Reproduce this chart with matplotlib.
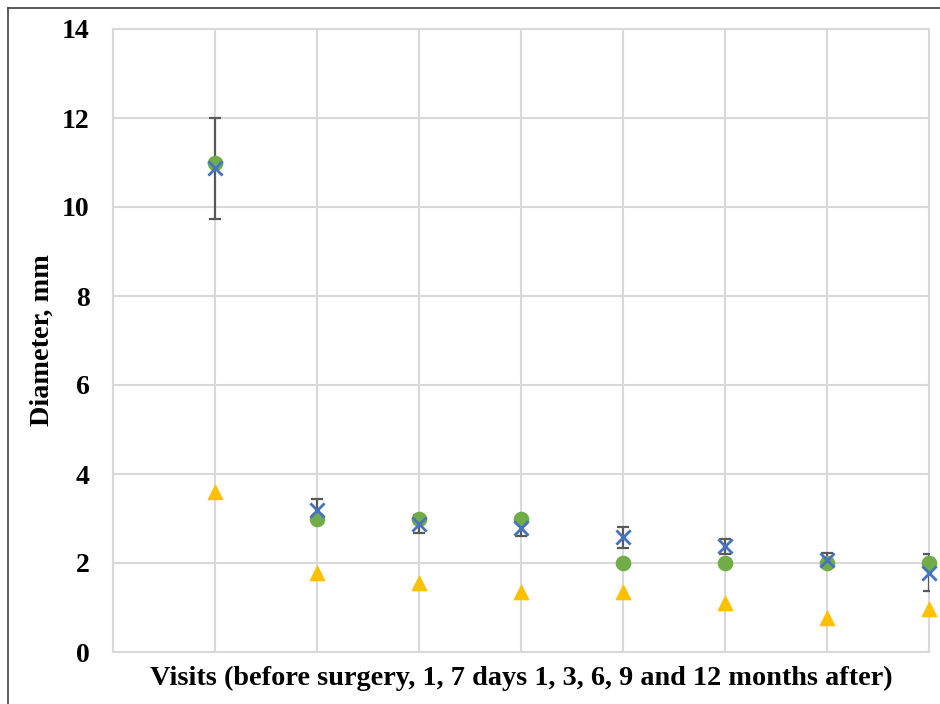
import matplotlib
matplotlib.use("Agg")
import matplotlib.pyplot as plt
from matplotlib.lines import Line2D

# Visit index (before surgery, 1 day, 7 days, 1, 3, 6, 9, 12 months)
visits = [1, 2, 3, 4, 5, 6, 7, 8]

# Diameter measurements, mm
mean_diam = [10.87, 3.19, 2.88, 2.79, 2.58, 2.38, 2.07, 1.78]
mean_err = [1.14, 0.25, 0.20, 0.18, 0.24, 0.17, 0.15, 0.42]
median_diam = [11.0, 3.0, 3.0, 3.0, 2.0, 2.0, 2.0, 2.0]
min_diam = [3.6, 1.78, 1.55, 1.35, 1.35, 1.1, 0.76, 0.97]

y_ticks = [0, 2, 4, 6, 8, 10, 12, 14]

plt.rcParams['font.family'] = ['Liberation Serif', 'DejaVu Serif']
plt.rcParams['font.weight'] = 'bold'

fig = plt.figure(figsize=(9.4, 7.04), dpi=100)
ax = fig.add_axes([113 / 940, 1 - 652 / 704, (929 - 113) / 940, (652 - 29) / 704])

grid_c = '#D9D9D9'
ax.set_xlim(0, 8)
ax.set_ylim(0, 14)
ax.set_xticks(range(0, 9))
ax.set_yticks(y_ticks)
ax.set_xticklabels([])
ax.set_yticklabels([str(v) for v in y_ticks], fontsize=20, fontweight='bold')
ax.tick_params(axis='both', length=0)
ax.tick_params(axis='y', pad=17)
ax.grid(True, color=grid_c, linewidth=1.5)
ax.set_axisbelow(True)
for s in ax.spines.values():
    s.set_color(grid_c)
    s.set_linewidth(1.5)

# error bars on mean series
ax.errorbar(visits, mean_diam, yerr=mean_err, fmt='none', ecolor='#595959',
            elinewidth=1.6, capsize=4.3, capthick=1.6, zorder=3)
ax.scatter(visits, median_diam, marker='o', s=105, color='#70AD47', zorder=4,
           clip_on=False)
ax.scatter(visits, mean_diam, marker='x', s=105, color='#4472C4', linewidths=2,
           zorder=5, clip_on=False)
ax.scatter(visits, min_diam, marker='^', s=105, color='#FFC000', zorder=4,
           clip_on=False)

ax.set_xlabel('Visits (before surgery, 1, 7 days 1, 3, 6, 9 and 12 months after)',
              fontsize=20.3, fontweight='bold')
ax.xaxis.set_label_coords(0.5, -(685 - 652) / 623)
ax.xaxis.label.set_verticalalignment('baseline')
ax.set_ylabel('Diameter, mm', fontsize=20.3, fontweight='bold')
ax.yaxis.set_label_coords(-(113 - 55) / 816, 0.5)

# outer chart frame (top and left edges)
fig.add_artist(Line2D([8 / 940, 8 / 940], [0, 1 - 8 / 704], color='#404040',
                      linewidth=1.2, transform=fig.transFigure))
fig.add_artist(Line2D([8 / 940, 1], [1 - 8 / 704, 1 - 8 / 704], color='#404040',
                      linewidth=1.2, transform=fig.transFigure))

fig.savefig('out.png', dpi=100)
